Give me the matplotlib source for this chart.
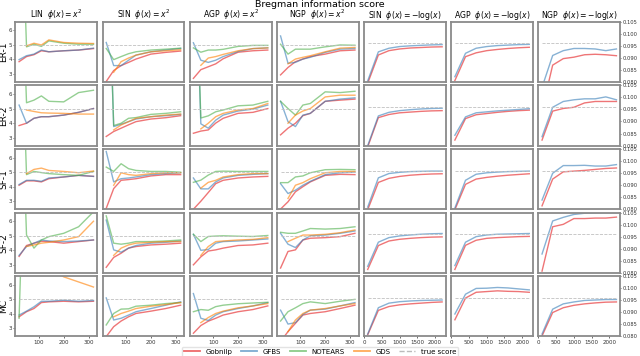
import matplotlib.pyplot as plt
import numpy as np

nan = np.nan

rows = ['ER-1', 'ER-2', 'SF-1', 'SF-2', 'MC']
left_cols = ['LIN', 'SIN', 'AGP', 'NGP']
right_cols = ['SIN', 'AGP', 'NGP']

# sample sizes
n_small = [20, 50, 80, 110, 140, 200, 260, 320]
n_large = [100, 400, 700, 1000, 1300, 1600, 1900, 2200]

true_small = 5.0
true_large = 0.096

# phi(x) = x^2 ; one list per row (ER-1, ER-2, SF-1, SF-2, MC)
LIN_gobnilp = [[3.85, 4.2, 4.33, 4.6, 4.53, 4.6, 4.65, 4.75],
               [3.83, 3.99, 4.33, 4.44, 4.44, 4.55, 4.74, 5.0],
               [4.1, 4.4, 4.4, 4.33, 4.55, 4.67, 4.78, 4.71],
               [3.58, 4.33, 4.49, 4.62, 4.6, 4.49, 4.6, 4.71],
               [3.8, 4.15, 4.37, 4.78, 4.83, 4.87, 4.83, 4.87]]
LIN_gfbs = [[3.99, 4.26, 4.37, 4.65, 4.53, 4.6, 4.65, 4.78],
            [5.24, 3.99, 4.33, 4.44, 4.44, 4.55, 4.74, 5.0],
            [4.15, 4.44, 4.44, 4.37, 4.6, 4.67, 4.78, 4.71],
            [3.65, 4.26, 4.49, 4.71, 4.64, 4.6, 4.64, 4.71],
            [3.92, 4.19, 4.49, 4.87, 4.87, 4.94, 4.87, 4.92]]
LIN_notears = [[20, 4.87, 5.05, 4.9, 5.28, 5.12, 5.05, 5.05],
               [20, 5.4, 5.58, 5.87, 5.5, 5.46, 6.1, 6.26],
               [20, 4.83, 5.05, 4.97, 4.9, 4.83, 4.78, 5.05],
               [20, 5.05, 4.15, 4.71, 4.94, 5.17, 5.62, 6.65],
               [3.7, 20, nan, nan, nan, nan, nan, nan]]
LIN_gds = [[nan, 4.94, 5.12, 5.0, 5.35, 5.17, 5.12, 5.1],
           [nan, 4.9, 4.8, 4.71, 4.69, 4.67, 4.62, 4.62],
           [nan, 4.9, 5.19, 5.28, 5.12, 5.05, 4.96, 5.08],
           [nan, 4.26, 4.37, 4.49, 4.55, 4.71, 4.94, 6.0],
           [nan, nan, nan, nan, 7.2, 6.55, 6.2, 5.85]]

SIN_gobnilp = [[2.49, 3.24, 3.58, 3.8, 4.03, 4.37, 4.49, 4.58],
               [3.08, 3.42, 3.65, 3.88, 4.1, 4.28, 4.37, 4.51],
               [2.51, 3.87, 4.44, 4.49, 4.55, 4.74, 4.83, 4.83],
               [2.83, 3.51, 3.8, 4.15, 4.26, 4.37, 4.42, 4.49],
               [2.44, 3.12, 3.51, 3.8, 4.03, 4.19, 4.37, 4.6]]
SIN_gfbs = [[5.17, 3.58, 3.58, 3.95, 4.3, 4.53, 4.65, 4.76],
            [20, 3.76, 3.92, 4.1, 4.28, 4.44, 4.51, 4.6],
            [6.42, 4.33, 4.55, 4.6, 4.67, 4.83, 4.9, 4.96],
            [6.08, 4.03, 3.87, 4.15, 4.33, 4.49, 4.55, 4.64],
            [5.1, 3.58, 3.7, 3.92, 4.15, 4.37, 4.6, 4.83]]
SIN_notears = [[4.76, 3.99, 4.2, 4.4, 4.53, 4.65, 4.71, 4.78],
               [20, 3.83, 3.99, 4.33, 4.38, 4.6, 4.67, 4.78],
               [5.35, 5.05, 5.58, 5.24, 5.12, 5.05, 5.05, 5.0],
               [6.37, 4.49, 4.42, 4.49, 4.6, 4.6, 4.64, 4.71],
               [3.24, 4.03, 4.33, 4.35, 4.53, 4.6, 4.71, 4.78]]
SIN_gds = [[nan, 3.12, 3.85, 4.1, 4.3, 4.53, 4.6, 4.67],
           [nan, 3.53, 3.87, 4.1, 4.33, 4.44, 4.55, 4.62],
           [nan, 4.1, 4.96, 4.83, 4.78, 4.9, 4.96, 4.96],
           [nan, 3.65, 4.15, 4.37, 4.49, 4.55, 4.6, 4.6],
           [nan, 3.8, 4.03, 4.19, 4.37, 4.53, 4.64, 4.78]]

AGP_gobnilp = [[2.7, 3.3, 3.5, 3.7, 4.05, 4.5, 4.6, 4.65],
               [3.3, 3.45, 3.53, 4.0, 4.33, 4.67, 4.74, 5.0],
               [2.45, 3.0, 3.6, 4.21, 4.44, 4.6, 4.67, 4.71],
               [3.0, 3.55, 3.95, 4.03, 4.15, 4.33, 4.37, 4.49],
               [2.67, 3.2, 3.5, 3.7, 3.92, 4.15, 4.3, 4.55]]
AGP_gfbs = [[5.15, 3.95, 3.8, 3.95, 4.2, 4.55, 4.75, 4.8],
            [20, 3.95, 3.65, 4.2, 4.55, 4.83, 4.96, 5.24],
            [4.6, 3.85, 3.85, 4.33, 4.6, 4.78, 4.85, 4.9],
            [5.1, 4.0, 4.05, 4.49, 4.6, 4.64, 4.71, 4.78],
            [5.4, 3.7, 3.55, 3.92, 4.15, 4.37, 4.55, 4.78]]
AGP_notears = [[4.8, 4.5, 4.65, 4.65, 4.7, 4.9, 4.97, 4.97],
               [20, 4.35, 4.5, 4.78, 4.9, 5.19, 5.24, 5.5],
               [4.3, 4.45, 4.8, 5.05, 5.07, 5.05, 5.05, 5.05],
               [5.1, 4.6, 4.95, 4.98, 5.0, 4.97, 4.95, 5.02],
               [4.15, 4.3, 4.25, 4.5, 4.6, 4.7, 4.75, 4.8]]
AGP_gds = [[nan, 3.6, 4.1, 4.2, 4.35, 4.6, 4.75, 4.8],
           [nan, 3.6, 3.99, 4.44, 4.67, 4.9, 5.0, 5.35],
           [nan, 3.9, 4.3, 4.44, 4.67, 4.83, 4.9, 4.9],
           [nan, 3.65, 4.26, 4.6, 4.64, 4.71, 4.75, 4.87],
           [nan, 3.4, 3.75, 4.03, 4.19, 4.42, 4.55, 4.71]]

NGP_gobnilp = [[2.94, 3.45, 3.85, 4.03, 4.2, 4.37, 4.6, 4.65],
               [3.19, 3.65, 3.99, 4.51, 4.67, 5.5, 5.58, 5.65],
               [2.46, 2.96, 3.65, 4.0, 4.33, 4.78, 4.85, 4.83],
               [2.78, 3.92, 4.03, 4.71, 4.83, 4.87, 4.94, 5.17],
               [2.1, 2.78, 3.35, 3.92, 4.03, 4.15, 4.37, 4.6]]
NGP_gfbs = [[5.62, 3.74, 3.8, 4.03, 4.15, 4.49, 4.71, 4.76],
            [5.5, 4.1, 3.76, 4.55, 4.67, 5.5, 5.65, 5.74],
            [4.21, 3.53, 3.76, 4.1, 4.37, 4.83, 4.96, 5.0],
            [5.17, 4.42, 4.19, 4.71, 5.0, 5.05, 5.17, 5.33],
            [4.26, 3.3, 3.4, 3.96, 4.26, 4.33, 4.55, 4.78]]
NGP_notears = [[5.05, 4.37, 4.71, 4.71, 4.71, 4.87, 5.0, 4.98],
               [5.5, 5.0, 4.55, 5.24, 5.35, 6.15, 6.1, 6.19],
               [4.28, 4.28, 4.67, 4.74, 4.96, 5.17, 5.19, 5.17],
               [5.24, 5.17, 5.17, 5.33, 5.5, 5.46, 5.5, 5.62],
               [3.51, 4.15, 4.42, 4.71, 4.83, 4.71, 4.87, 5.0]]
NGP_gds = [[nan, 3.7, 4.03, 4.15, 4.26, 4.53, 4.78, 4.83],
           [nan, 3.99, 4.55, 4.83, 5.0, 5.8, 5.92, 5.92],
           [nan, 3.19, 4.1, 4.28, 4.55, 4.96, 5.05, 5.05],
           [nan, 4.6, 4.83, 5.05, 5.05, 5.1, 5.21, 5.4],
           [nan, 2.78, 3.58, 4.03, 4.26, 4.37, 4.55, 4.71]]

# phi(x) = -log(x)
SINlog_gobnilp = [[0.0795, 0.0912, 0.0930, 0.0937, 0.0941, 0.0943, 0.0945, 0.0946],
                  [0.0795, 0.0916, 0.0929, 0.0936, 0.0939, 0.0942, 0.0944, 0.0945],
                  [0.0798, 0.0911, 0.0928, 0.0936, 0.0941, 0.0944, 0.0946, 0.0947],
                  [0.0814, 0.0913, 0.0932, 0.0939, 0.0943, 0.0946, 0.0948, 0.0949],
                  [0.0807, 0.0908, 0.0924, 0.0931, 0.0935, 0.0938, 0.0941, 0.0943]]
SINlog_gfbs = [[0.0805, 0.0925, 0.0940, 0.0947, 0.0950, 0.0952, 0.0954, 0.0955],
               [0.0800, 0.0923, 0.0938, 0.0945, 0.0949, 0.0952, 0.0954, 0.0955],
               [0.0809, 0.0930, 0.0948, 0.0953, 0.0956, 0.0957, 0.0958, 0.0958],
               [0.0827, 0.0927, 0.0946, 0.0953, 0.0957, 0.0960, 0.0962, 0.0963],
               [0.0810, 0.0919, 0.0938, 0.0944, 0.0947, 0.0949, 0.0950, 0.0951]]
AGPlog_gobnilp = [[0.0806, 0.0905, 0.0921, 0.0930, 0.0935, 0.0939, 0.0942, 0.0944],
                  [0.0823, 0.0912, 0.0928, 0.0933, 0.0938, 0.0942, 0.0945, 0.0947],
                  [0.0798, 0.0903, 0.0925, 0.0932, 0.0937, 0.0941, 0.0944, 0.0947],
                  [0.0814, 0.0914, 0.0935, 0.0943, 0.0946, 0.0948, 0.0950, 0.0951],
                  [0.0869, 0.0959, 0.0983, 0.0986, 0.0989, 0.0987, 0.0986, 0.0983]]
AGPlog_gfbs = [[0.0822, 0.0919, 0.0940, 0.0947, 0.0951, 0.0953, 0.0955, 0.0956],
               [0.0843, 0.0919, 0.0936, 0.0940, 0.0944, 0.0947, 0.0950, 0.0953],
               [0.0805, 0.0920, 0.0945, 0.0951, 0.0954, 0.0956, 0.0957, 0.0958],
               [0.0830, 0.0927, 0.0950, 0.0957, 0.0960, 0.0961, 0.0962, 0.0963],
               [0.0893, 0.0975, 0.0999, 0.1000, 0.1003, 0.1001, 0.0997, 0.0993]]
NGPlog_gobnilp = [[0.0682, 0.0870, 0.0897, 0.0903, 0.0913, 0.0915, 0.0913, 0.0909],
                  [0.0823, 0.0943, 0.0954, 0.0959, 0.0977, 0.0983, 0.0983, 0.0983],
                  [0.0814, 0.0925, 0.0955, 0.0958, 0.0961, 0.0965, 0.0969, 0.0971],
                  [0.0807, 0.0991, 0.1001, 0.1025, 0.1025, 0.1027, 0.1027, 0.1031],
                  [0.0802, 0.0899, 0.0919, 0.0929, 0.0935, 0.0939, 0.0942, 0.0943]]
NGPlog_gfbs = [[0.0778, 0.0910, 0.0930, 0.0939, 0.0939, 0.0937, 0.0930, 0.0937],
               [0.0837, 0.0959, 0.0983, 0.0990, 0.0994, 0.0994, 0.1002, 0.0990],
               [0.0838, 0.0949, 0.0981, 0.0981, 0.0982, 0.0979, 0.0979, 0.0985],
               [0.0878, 0.1015, 0.1030, 0.1042, 0.1047, 0.1049, 0.1050, 0.1050],
               [0.0810, 0.0913, 0.0935, 0.0943, 0.0949, 0.0951, 0.0953, 0.0953]]

left_data = {
    'LIN': [LIN_gobnilp, LIN_gfbs, LIN_notears, LIN_gds],
    'SIN': [SIN_gobnilp, SIN_gfbs, SIN_notears, SIN_gds],
    'AGP': [AGP_gobnilp, AGP_gfbs, AGP_notears, AGP_gds],
    'NGP': [NGP_gobnilp, NGP_gfbs, NGP_notears, NGP_gds],
}
right_data = {
    'SIN': [SINlog_gobnilp, SINlog_gfbs],
    'AGP': [AGPlog_gobnilp, AGPlog_gfbs],
    'NGP': [NGPlog_gobnilp, NGPlog_gfbs],
}

methods = ['Gobnilp', 'GFBS', 'NOTEARS', 'GDS']
colors = ['#e41a1c', '#377eb8', '#4daf4a', '#ff7f00']

fig, axes = plt.subplots(5, 7, figsize=(6.4, 3.56), dpi=100)
fig.subplots_adjust(left=0.024, right=0.969, top=0.939, bottom=0.055,
                    wspace=0.065, hspace=0.055)

for r, row in enumerate(rows):
    for c in range(7):
        ax = axes[r, c]
        if c < 4:
            col = left_cols[c]
            for m, series in enumerate(left_data[col]):
                ax.plot(n_small, series[r], color=colors[m], alpha=0.6, lw=1.0)
            ax.hlines(true_small, n_small[0], n_small[-1], colors='#c0c0c0',
                      linestyles='--', lw=0.6)
            ax.set_xlim(5, 335)
            ax.set_ylim(2.45, 6.6)
            ax.set_yticks([3, 4, 5, 6])
            ax.set_xticks([100, 200, 300])
            if r == 0:
                ax.set_title(col + r'  $\phi(x) = x^2$', fontsize=5.6, pad=1)
        else:
            col = right_cols[c - 4]
            for m, series in enumerate(right_data[col]):
                ax.plot(n_large, series[r], color=colors[m], alpha=0.6, lw=1.0)
            ax.hlines(true_large, n_large[0], n_large[-1], colors='#c0c0c0',
                      linestyles='--', lw=0.6)
            ax.set_xlim(-5, 2305)
            ax.set_ylim(0.080, 0.105)
            ax.set_yticks([0.080, 0.085, 0.090, 0.095, 0.100, 0.105])
            ax.set_xticks([0, 500, 1000, 1500, 2000])
            if r == 0:
                ax.set_title(col + r'  $\phi(x) = -\log(x)$', fontsize=5.6, pad=1)

        ax.tick_params(labelsize=4, length=1.5, width=0.5, pad=0.8, colors='#333333')
        if c == 6:
            ax.yaxis.tick_right()
            ax.yaxis.set_major_formatter(plt.FormatStrFormatter('%.3f'))
            ax.tick_params(axis='y', labelsize=3.7, length=1, pad=0.5)
        elif c != 0:
            ax.tick_params(axis='y', left=False, labelleft=False)
        if r != 4:
            ax.tick_params(axis='x', bottom=False, labelbottom=False)
        for s in ax.spines.values():
            s.set_color('#8a8a8a')
            s.set_linewidth(1.3)
        if c == 0:
            ax.set_ylabel(row, fontsize=6.5, labelpad=0.5)

fig.suptitle('Bregman information score', fontsize=6.8, y=1.0)

handles = [plt.Line2D([], [], color=colors[m], alpha=0.65, lw=1.3) for m in range(4)]
handles.append(plt.Line2D([], [], color='#bbbbbb', ls='--', lw=1.0))
fig.legend(handles, methods + ['true score'], loc='lower center', ncol=5,
           fontsize=5, frameon=True, bbox_to_anchor=(0.5, -0.012),
           handlelength=2.3, columnspacing=1.3, borderpad=0.3,
           edgecolor='#dddddd', fancybox=True)

fig.savefig('out.png', dpi=100)
